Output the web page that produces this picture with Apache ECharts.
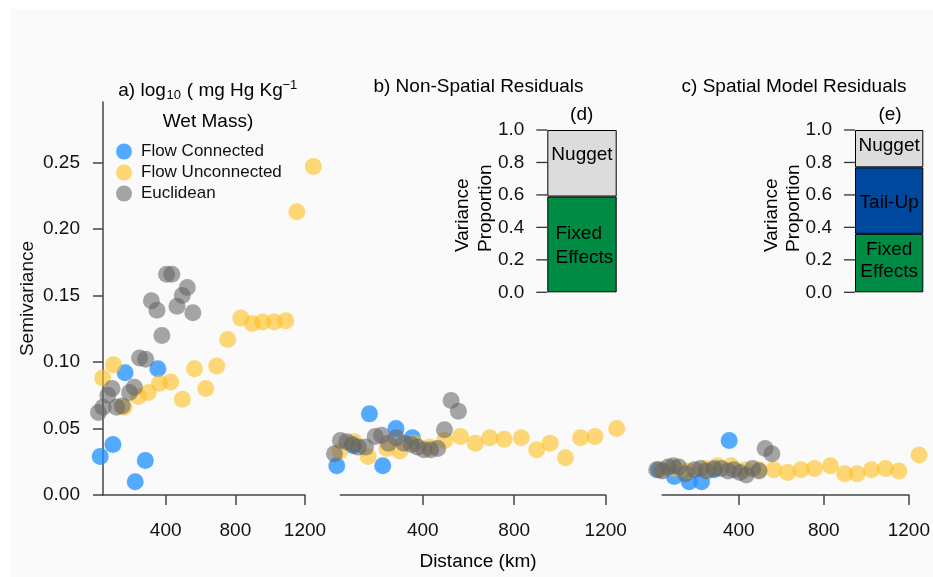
<!DOCTYPE html>
<html>
<head>
<meta charset="utf-8">
<script src="https://cdn.jsdelivr.net/npm/echarts@6/dist/echarts.min.js"></script>
<style>
html, body { margin: 0; padding: 0; background: #fff; }
#chart { width: 933px; height: 577px; }
</style>
</head>
<body>
<div id="chart"></div>
<script>
// lag distances (km), shared by the three panels
const distBlue = [24, 97, 167, 225, 283, 355]
const distYellow = [38, 100, 161, 243, 300, 364, 429, 496, 565, 630, 693, 756, 831, 898, 957, 1024, 1090, 1153, 1248]
const distGray = [14, 40, 68, 92, 118, 150, 192, 220, 250, 285, 318, 350, 378, 405, 435, 465, 495, 524, 556]

// a) log10 mercury
const aBlue = [0.029, 0.038, 0.092, 0.010, 0.026, 0.095]
const aYellow = [0.088, 0.098, 0.066, 0.074, 0.077, 0.084, 0.085, 0.072, 0.095, 0.080, 0.097, 0.117, 0.133, 0.129, 0.130, 0.130, 0.131, 0.213, 0.247]
const aGray = [0.062, 0.066, 0.075, 0.080, 0.066, 0.067, 0.077, 0.081, 0.103, 0.102, 0.146, 0.139, 0.120, 0.166, 0.166, 0.142, 0.150, 0.156, 0.137]

// b) non-spatial residuals
const bBlue = [0.022, 0.037, 0.061, 0.022, 0.050, 0.043]
const bYellow = [0.033, 0.040, 0.029, 0.035, 0.033, 0.039, 0.036, 0.041, 0.044, 0.039, 0.043, 0.042, 0.043, 0.034, 0.039, 0.028, 0.043, 0.044, 0.050]
const bGray = [0.031, 0.041, 0.040, 0.038, 0.036, 0.036, 0.044, 0.045, 0.039, 0.043, 0.039, 0.038, 0.036, 0.034, 0.034, 0.035, 0.049, 0.071, 0.063]

// c) spatial model residuals
const cBlue = [0.019, 0.014, 0.010, 0.010, 0.019, 0.041]
const cYellow = [0.019, 0.020, 0.018, 0.020, 0.022, 0.022, 0.019, 0.019, 0.019, 0.017, 0.019, 0.020, 0.022, 0.016, 0.016, 0.019, 0.020, 0.018, 0.030]
const cGray = [0.019, 0.018, 0.021, 0.022, 0.021, 0.016, 0.019, 0.020, 0.018, 0.020, 0.020, 0.018, 0.019, 0.017, 0.015, 0.020, 0.018, 0.035, 0.031]

// insets (d) and (e): variance proportions
const partsD = ['Fixed Effects', 'Nugget']
const propD = [0.59, 0.41]
const partsE = ['Fixed Effects', 'Tail-Up', 'Nugget']
const propE = [0.36, 0.41, 0.23]

const xTicks = [400, 800, 1200]
const yTicks = [0, 0.05, 0.10, 0.15, 0.20, 0.25]
const propTicks = [0, 0.2, 0.4, 0.6, 0.8, 1.0]

const FONT = '"Liberation Sans", Arial, sans-serif'
const colBlue = 'rgba(30,144,255,0.95)'
const colYellow = 'rgba(255,190,30,0.75)'
const colGray = 'rgba(100,100,100,0.72)'
const partColor = { 'Fixed Effects': '#008B45', 'Tail-Up': '#00479E', 'Nugget': '#DCDCDC' }

function pts(d, v) {
    return d.map((x, i) => [x, v[i]])
}

const insetD = { left: 547.3, width: 69.4, top: 130, height: 162.3 }
const insetE = { left: 855, width: 68.3, top: 130, height: 162.3 }

// main panels, insets (bars), insets again (value/value, carries the tick marks)
let grids = [
    { left: 103, width: 202, top: 102, height: 393 },
    { left: 340.4, width: 265.3, top: 102, height: 393 },
    { left: 662.2, width: 251.8, top: 102, height: 393 },
    insetD, insetE, insetD, insetE
]

let xAxes = [0, 1, 2].map(i => ({
    type: 'value',
    gridIndex: i,
    min: 40,
    max: 1200,
    axisLine: { show: true, lineStyle: { color: '#444', width: 1.5 } },
    axisTick: { show: true, length: 10, customValues: xTicks, lineStyle: { color: '#444', width: 1.5 } },
    axisLabel: { customValues: xTicks, margin: 26, fontSize: 19, color: '#111', fontFamily: FONT,
        formatter: v => String(v) },
    splitLine: { show: false }
}))
for (let g of [3, 4]) {
    xAxes.push({ type: 'category', gridIndex: g, data: [g == 3 ? 'd' : 'e'], show: false })
}
for (let g of [5, 6]) {
    xAxes.push({ type: 'value', gridIndex: g, min: 0, max: 1, show: false })
}

let yAxes = [0, 1, 2].map(i => ({
    type: 'value',
    gridIndex: i,
    min: 0,
    max: 0.2955,
    show: i == 0,
    name: i == 0 ? 'Semivariance' : '',
    nameLocation: 'middle',
    nameGap: 66,
    nameTextStyle: { fontSize: 19, color: '#111', fontFamily: FONT },
    axisLine: { show: true, onZero: false, lineStyle: { color: '#444', width: 1.5 } },
    axisTick: { show: true, length: 10, customValues: yTicks, lineStyle: { color: '#444', width: 1.5 } },
    axisLabel: { customValues: yTicks, margin: 23, fontSize: 19, color: '#111', fontFamily: FONT,
        formatter: v => v.toFixed(2) },
    splitLine: { show: false }
}))
for (let g of [3, 4]) {
    yAxes.push({
        type: 'value',
        gridIndex: g,
        min: 0,
        max: 1,
        axisLine: { show: false },
        axisTick: { show: false },
        axisLabel: { customValues: propTicks, margin: 23, fontSize: 19, color: '#111', fontFamily: FONT,
            formatter: v => v.toFixed(1) },
        splitLine: { show: false }
    })
}
for (let g of [5, 6]) {
    yAxes.push({ type: 'value', gridIndex: g, min: 0, max: 1, show: false })
}

let series = []
let panels = [[aBlue, aYellow, aGray], [bBlue, bYellow, bGray], [cBlue, cYellow, cGray]]
panels.forEach((p, i) => {
    series.push({ name: 'Flow Connected', type: 'scatter', xAxisIndex: i, yAxisIndex: i, clip: false,
        symbolSize: 17, itemStyle: { color: colBlue }, data: pts(distBlue, p[0]) })
    series.push({ name: 'Flow Unconnected', type: 'scatter', xAxisIndex: i, yAxisIndex: i, clip: false,
        symbolSize: 17, itemStyle: { color: colYellow }, data: pts(distYellow, p[1]) })
    series.push({ name: 'Euclidean', type: 'scatter', xAxisIndex: i, yAxisIndex: i, clip: false,
        symbolSize: 17, itemStyle: { color: colGray }, data: pts(distGray, p[2]) })
})

// bar labels, tuned by hand
const labelD = {
    'Fixed Effects': { formatter: 'Fixed\nEffects', align: 'left', offset: [-26.5, 1], lineHeight: 23.7 },
    'Nugget': { formatter: 'Nugget', offset: [0, -9] }
}
const labelE = {
    'Fixed Effects': { formatter: 'Fixed\nEffects', offset: [0, -2], lineHeight: 21.7 },
    'Tail-Up': { formatter: 'Tail-Up', offset: [0, 1.7] },
    'Nugget': { formatter: 'Nugget', offset: [0, -3] }
}
function insetBars(parts, props, labels, idx) {
    parts.forEach((name, i) => {
        series.push({
            name: name,
            type: 'bar',
            stack: 'inset' + idx,
            xAxisIndex: idx,
            yAxisIndex: idx,
            barWidth: '100%',
            itemStyle: { color: partColor[name], borderColor: '#000', borderWidth: 1 },
            label: Object.assign({ show: true, position: 'inside', fontSize: 19, color: '#000', fontFamily: FONT },
                labels[name]),
            data: [props[i]]
        })
    })
}
insetBars(partsD, propD, labelD, 3)
insetBars(partsE, propE, labelE, 4)

// tick marks of the inset axes: short horizontal dashes just left of the bar
for (let g of [5, 6]) {
    series.push({
        type: 'scatter',
        xAxisIndex: g,
        yAxisIndex: g,
        clip: false,
        silent: true,
        z: 20,
        symbol: 'rect',
        symbolSize: [11, 1.3],
        symbolOffset: [-5.5, 0],
        itemStyle: { color: '#333', opacity: 1 },
        data: propTicks.map(v => [0, v])
    })
}

function txt(s, x, y, opt) {
    opt = opt || {}
    return {
        type: 'text',
        x: x,
        y: y,
        rotation: opt.rotation || 0,
        style: {
            text: s,
            fontSize: opt.size || 19,
            fontFamily: FONT,
            fill: '#000',
            align: opt.align || 'center',
            textAlign: opt.align || 'center',
            verticalAlign: 'middle',
            textVerticalAlign: 'middle'
        }
    }
}

let graphics = [
    { type: 'rect', shape: { x: 0, y: 0, width: 933, height: 9 }, style: { fill: '#fff' }, silent: true },
    { type: 'rect', shape: { x: 0, y: 0, width: 10, height: 577 }, style: { fill: '#fff' }, silent: true },
    // panel titles
    txt('a) log', 118.3, 91, { align: 'left' }),
    txt('10', 166.5, 95.5, { align: 'left', size: 13 }),
    txt(' ( mg Hg Kg', 181.5, 91, { align: 'left' }),
    txt('\u22121', 282.5, 85, { align: 'left', size: 13 }),
    txt('Wet Mass)', 208, 121.5),
    txt('b) Non-Spatial Residuals', 478.5, 87),
    txt('c) Spatial Model Residuals', 794, 87),
    txt('Distance (km)', 478, 562),
    // inset labels
    txt('(d)', 581.7, 115),
    txt('(e)', 890, 115),
    txt('Variance', 462.7, 252, { align: 'left', rotation: Math.PI / 2 }),
    txt('Proportion', 485.7, 252, { align: 'left', rotation: Math.PI / 2 }),
    txt('Variance', 771.7, 252, { align: 'left', rotation: Math.PI / 2 }),
    txt('Proportion', 793.3, 252, { align: 'left', rotation: Math.PI / 2 })
]

let option = {
    animation: false,
    backgroundColor: '#fafafa',
    textStyle: { fontFamily: FONT },
    legend: {
        data: ['Flow Connected', 'Flow Unconnected', 'Euclidean'],
        orient: 'vertical',
        left: 111,
        top: 138,
        icon: 'circle',
        itemWidth: 16,
        itemHeight: 16,
        itemGap: 4,
        textStyle: { fontSize: 17, color: '#111', fontFamily: FONT, padding: [0, 0, 0, 4] }
    },
    grid: grids,
    xAxis: xAxes,
    yAxis: yAxes,
    series: series,
    graphic: graphics
}

let myChart = echarts.init(document.getElementById('chart'))
myChart.setOption(option)
</script>
</body>
</html>
